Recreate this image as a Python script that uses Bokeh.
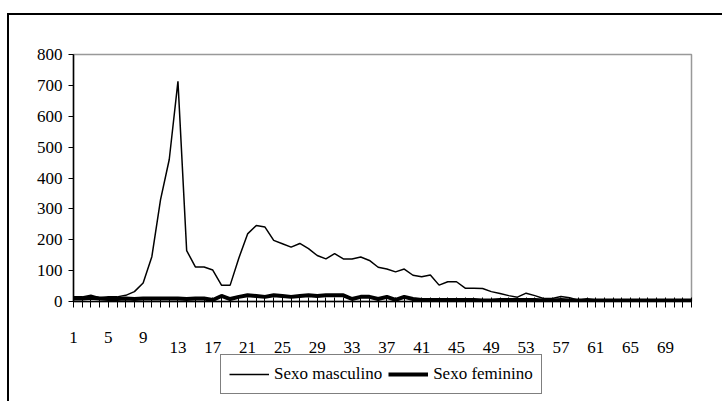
from bokeh.plotting import figure
from bokeh.layouts import column
from bokeh.models import Range1d, FixedTicker, Legend, LegendItem, LinearAxis
from bokeh.embed import file_html
from bokeh.resources import INLINE

# ---- data ----
categories = list(range(1, 73))
masculino = [15, 15, 20, 12, 15, 15, 20, 32, 60, 145,
             330, 460, 713, 165, 112, 112, 102, 53, 53, 141,
             219, 246, 241, 198, 187, 176, 188, 171, 149, 138,
             155, 138, 138, 144, 133, 111, 105, 96, 105, 85,
             80, 86, 53, 64, 64, 43, 43, 42, 32, 26,
             19, 14, 27, 19, 10, 10, 16, 12, 4, 9,
             5, 5, 5, 4, 5, 3, 4, 3, 2, 3,
             2, 2]
feminino = [10, 10, 12, 10, 8, 8, 10, 8, 10, 10,
            10, 10, 10, 8, 10, 10, 5, 18, 8, 15,
            20, 18, 15, 20, 18, 15, 18, 20, 18, 20,
            20, 20, 8, 15, 15, 8, 15, 5, 15, 8,
            5, 5, 5, 5, 5, 5, 5, 3, 3, 5,
            5, 5, 5, 5, 3, 3, 5, 3, 3, 3,
            3, 3, 3, 3, 3, 3, 3, 3, 3, 3,
            3, 3]
x_labels = list(range(1, 73, 4))      # 1, 5, 9, ..., 69
raised_labels = [1, 5, 9]             # drawn slightly higher in the original
lower_labels = [k for k in x_labels if k not in raised_labels]
y_ticks = list(range(0, 801, 100))
series_names = ["Sexo masculino", "Sexo feminino"]

FONT = "'Liberation Serif', 'Times New Roman', serif"

p = figure(frame_width=618, frame_height=247,
           x_range=Range1d(1, 72), y_range=Range1d(0, 800),
           output_backend="svg", toolbar_location=None,
           x_axis_location=None,
           min_border_left=64, min_border_right=31,
           min_border_top=39, min_border_bottom=52)

p.background_fill_color = "white"
p.border_fill_color = "white"
p.outline_line_color = "#999999"
p.outline_line_width = 1.5
p.xgrid.visible = False
p.ygrid.visible = False

# y axis
p.yaxis.ticker = FixedTicker(ticks=y_ticks)
p.yaxis.axis_line_color = "black"
p.yaxis.axis_line_width = 1.5
p.yaxis.major_tick_in = 0
p.yaxis.major_tick_out = 5
p.yaxis.minor_tick_line_color = None
p.yaxis.major_label_text_font = FONT
p.yaxis.major_label_text_font_size = "17px"
p.yaxis.major_label_text_color = "black"
p.yaxis.major_label_standoff = 6

# x axis A: all category ticks, labels 1, 5, 9
xa = LinearAxis(ticker=FixedTicker(ticks=categories))
xa.major_label_overrides = {k: (str(k) if k in raised_labels else "")
                            for k in categories}
xa.axis_line_color = "black"
xa.axis_line_width = 1.5
xa.major_tick_in = 4
xa.major_tick_out = 6
xa.minor_tick_line_color = None
xa.major_label_text_font = FONT
xa.major_label_text_font_size = "17px"
xa.major_label_text_color = "black"
xa.major_label_standoff = 24
p.add_layout(xa, "below")

# x axis B: remaining labels, one row lower
xb = LinearAxis(ticker=FixedTicker(ticks=lower_labels))
xb.axis_line_color = None
xb.major_tick_line_color = None
xb.major_tick_in = 0
xb.major_tick_out = 0
xb.minor_tick_line_color = None
xb.major_label_text_font = FONT
xb.major_label_text_font_size = "17px"
xb.major_label_text_color = "black"
xb.major_label_standoff = -4
p.add_layout(xb, "below")

p.line(categories, masculino, line_color="black", line_width=1.5)
p.line(categories, feminino, line_color="black", line_width=4)

# legend strip below the chart (same series, out of its visible range)
lg = figure(width=713, height=48, x_range=Range1d(1, 72),
            y_range=Range1d(-20, -10), output_backend="svg",
            toolbar_location=None, x_axis_location=None,
            y_axis_location=None, min_border=0)
lg.margin = (-1, 0, 0, 0)
lg.outline_line_color = None
lg.xgrid.visible = False
lg.ygrid.visible = False
lg.background_fill_alpha = 0
lg.border_fill_alpha = 0
l1 = lg.line(categories, masculino, line_color="black", line_width=1.5)
l2 = lg.line(categories, feminino, line_color="black", line_width=4)

legend = Legend(items=[LegendItem(label=series_names[0], renderers=[l1]),
                       LegendItem(label=series_names[1], renderers=[l2])],
                orientation="horizontal", location=(147, 8))
legend.border_line_color = "black"
legend.border_line_width = 1
legend.background_fill_color = "white"
legend.background_fill_alpha = 1
legend.label_text_font = FONT
legend.label_text_font_size = "17px"
legend.label_text_color = "black"
legend.glyph_width = 40
legend.glyph_height = 22
legend.label_height = 22
legend.label_standoff = 5
legend.spacing = 6
legend.padding = 8
legend.margin = 0
lg.add_layout(legend)

layout = column(p, lg, spacing=0, margin=(13, 0, 0, 7))
layout.styles = {"border-top": "2px solid black", "border-left": "2px solid black"}

open("out.html", "w").write(file_html(layout, INLINE))
